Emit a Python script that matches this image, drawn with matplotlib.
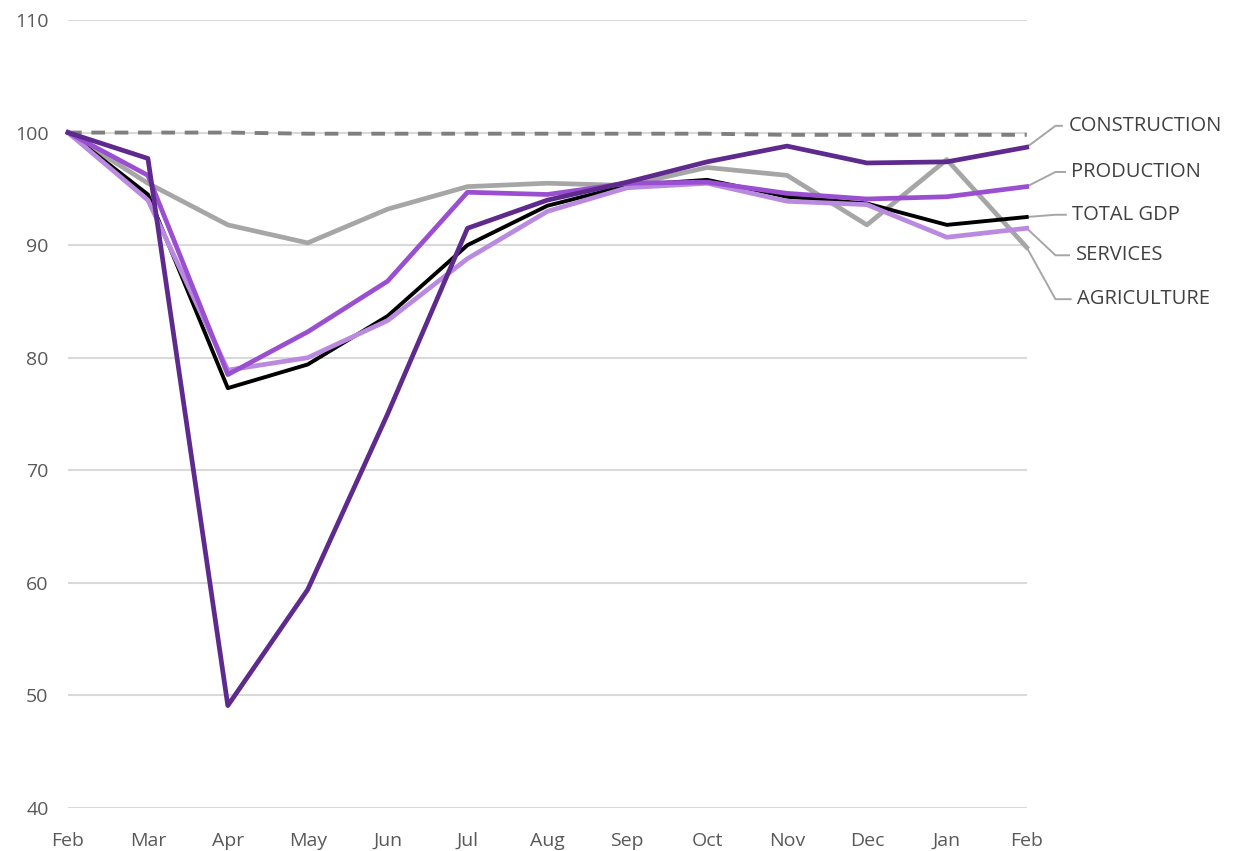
import matplotlib.pyplot as plt

MONTHS = ["Feb", "Mar", "Apr", "May", "Jun", "Jul", "Aug", "Sep", "Oct", "Nov", "Dec", "Jan", "Feb"]

BASELINE = [100.0, 100.0, 100.0, 99.9, 99.9, 99.9, 99.9, 99.9, 99.9, 99.8, 99.8, 99.8, 99.8]
AGRICULTURE = [100.0, 95.5, 91.8, 90.2, 93.2, 95.2, 95.5, 95.3, 96.9, 96.2, 91.8, 97.6, 89.8]
TOTAL_GDP = [100.0, 94.5, 77.3, 79.4, 83.7, 90.0, 93.5, 95.3, 95.8, 94.3, 93.7, 91.8, 92.5]
SERVICES = [100.0, 94.0, 78.9, 80.0, 83.3, 88.8, 93.0, 95.1, 95.5, 93.9, 93.6, 90.7, 91.5]
PRODUCTION = [100.0, 96.2, 78.5, 82.3, 86.8, 94.7, 94.5, 95.5, 95.6, 94.6, 94.1, 94.3, 95.2]
CONSTRUCTION = [100.0, 97.7, 49.1, 59.4, 75.0, 91.5, 94.0, 95.6, 97.4, 98.8, 97.3, 97.4, 98.7]

# label name, series, label y, text x
LABELS = [
    ("CONSTRUCTION", CONSTRUCTION, 100.6, 12.52),
    ("PRODUCTION", PRODUCTION, 96.5, 12.56),
    ("TOTAL GDP", TOTAL_GDP, 92.7, 12.57),
    ("SERVICES", SERVICES, 89.1, 12.61),
    ("AGRICULTURE", AGRICULTURE, 85.2, 12.63),
]

plt.rcParams["font.family"] = ["Open Sans", "DejaVu Sans"]

fig = plt.figure(figsize=(12.37, 8.51), dpi=100)
ax = fig.add_axes([0.055, 0.0505, 0.775, 0.926])

x = list(range(len(MONTHS)))
ax.plot(x, BASELINE, color="#7f7f7f", lw=2.8, ls=(0, (3.5, 2.5)), clip_on=False, zorder=2)
ax.plot(x, AGRICULTURE, color="#a6a6a6", lw=3.4, clip_on=False, zorder=3)
ax.plot(x, TOTAL_GDP, color="#000000", lw=2.8, clip_on=False, zorder=4)
ax.plot(x, SERVICES, color="#b98ae0", lw=3.4, clip_on=False, zorder=5)
ax.plot(x, PRODUCTION, color="#9a4fd1", lw=3.4, clip_on=False, zorder=6)
ax.plot(x, CONSTRUCTION, color="#5e2a8e", lw=3.4, clip_on=False, zorder=7)

# leader lines and labels at right
for name, series, ly, tx in LABELS:
    ax.plot([12, 12.36, tx - 0.08], [series[-1], ly, ly], color="#a6a6a6", lw=1.4,
            clip_on=False, zorder=1)
    ax.text(tx, ly, name, color="#404040", fontsize=14.5, va="center", ha="left")

ax.set_xlim(0, 12)
ax.set_ylim(40, 110)
ax.set_yticks(range(40, 111, 10))
ax.set_xticks(x)
ax.set_xticklabels(MONTHS)
ax.tick_params(length=0, labelsize=14, labelcolor="#595959")
ax.tick_params(axis="x", pad=17)
ax.tick_params(axis="y", pad=14)
ax.grid(axis="y", color="#d9d9d9", lw=1.5)
ax.set_axisbelow(True)
for s in ax.spines.values():
    s.set_visible(False)

fig.savefig("out.png", dpi=100)
